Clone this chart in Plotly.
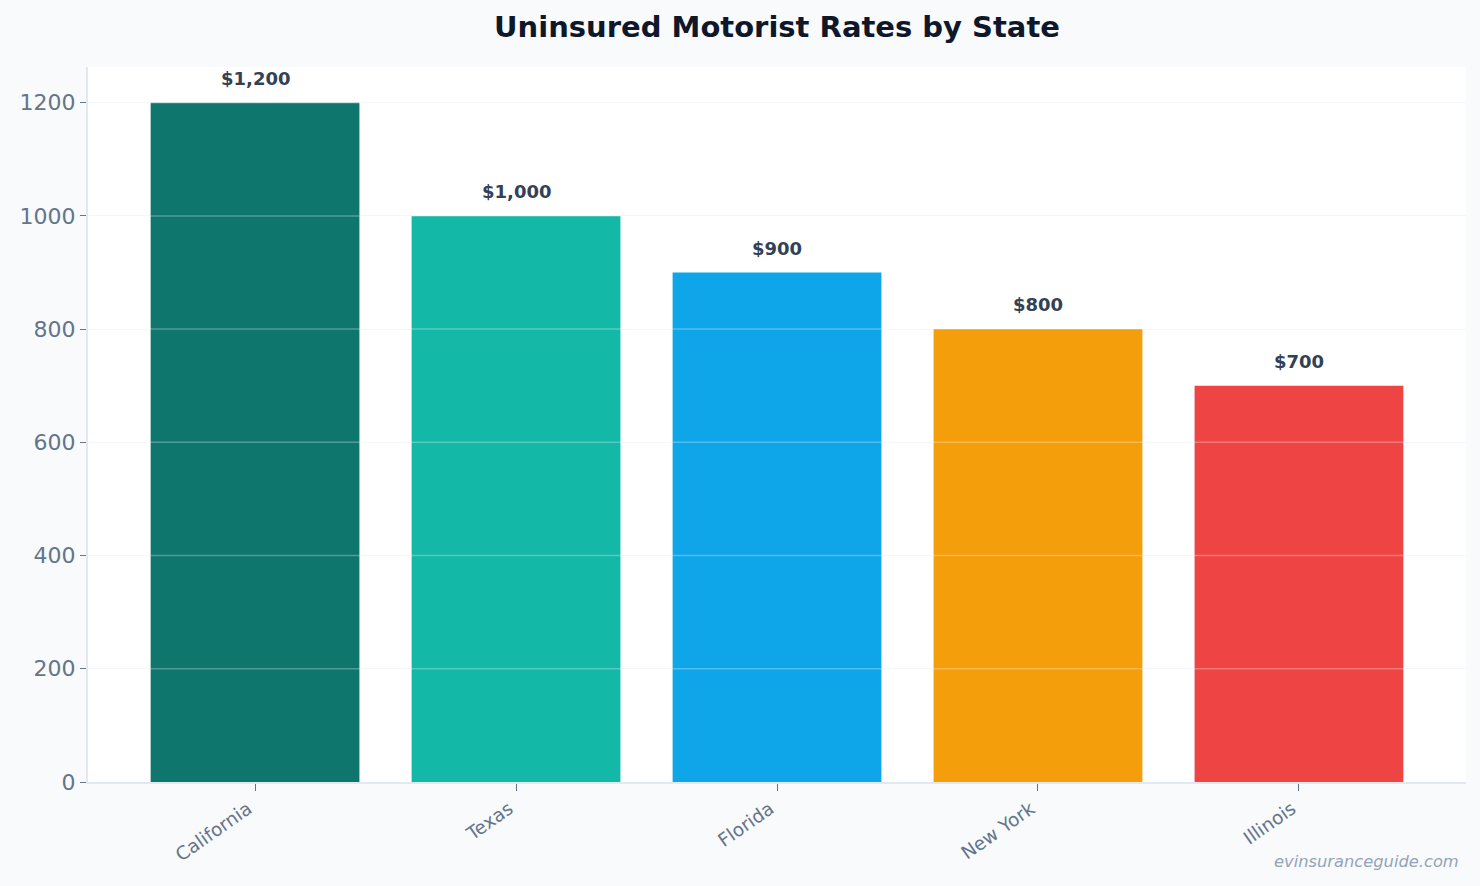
import plotly.graph_objects as go

states = ["California", "Texas", "Florida", "New York", "Illinois"]
rates = [1200, 1000, 900, 800, 700]
colors = ["#0f766e", "#14b8a6", "#0ea5e9", "#f59e0b", "#ef4444"]
y_ticks = [0, 200, 400, 600, 800, 1000, 1200]

fig = go.Figure()
fig.add_trace(go.Bar(
    x=states,
    y=rates,
    marker=dict(color=colors, line=dict(width=0)),
    hovertemplate="%{x}: $%{y:,}<extra></extra>",
))

# value labels above the bars
for s, r in zip(states, rates):
    fig.add_annotation(
        x=s, y=r, text="<b>$" + format(r, ",") + "</b>",
        showarrow=False, yanchor="bottom", yshift=12,
        font=dict(family="DejaVu Sans", size=18, color="#334155"),
    )

# light grid lines drawn over the bars
for t in y_ticks[1:]:
    fig.add_shape(
        type="line", xref="paper", x0=0, x1=1, yref="y", y0=t, y1=t,
        line=dict(color="rgba(255,255,255,0.28)", width=1.5), layer="above",
    )

fig.add_annotation(
    text="<i>evinsuranceguide.com</i>", xref="paper", yref="paper",
    x=1, y=-0.095, xanchor="right", yanchor="top", xshift=-5, showarrow=False,
    font=dict(family="DejaVu Sans", size=16.3, color="#94a3b8"),
)

fig.update_layout(
    width=1480,
    height=886,
    paper_bgcolor="#f8fafc",
    plot_bgcolor="#ffffff",
    margin=dict(l=88, r=14, t=67, b=104),
    bargap=0.2,
    showlegend=False,
    title=dict(
        text="<b>Uninsured Motorist Rates by State</b>",
        x=0.5, xref="paper", xanchor="center", y=0.97, yanchor="middle",
        font=dict(family="DejaVu Sans", size=29, color="#0f172a"),
    ),
    font=dict(family="DejaVu Sans", color="#64748b"),
)
fig.update_xaxes(
    range=[-0.64, 4.64],
    tickangle=-35,
    tickfont=dict(size=18.5, color="#64748b"),
    ticklabelshift=-7,
    showline=True, linecolor="#e2e8f0", linewidth=2,
    ticks="outside", ticklen=7, tickcolor="#64748b",
    showgrid=False,
)
fig.update_yaxes(
    range=[0, 1263],
    tickvals=y_ticks,
    tickfont=dict(size=22, color="#64748b"),
    showline=True, linecolor="#e2e8f0", linewidth=2,
    ticks="outside", ticklen=6, tickcolor="#64748b",
    gridcolor="#f1f5f9", gridwidth=1,
    zeroline=False,
)

fig.write_html(
    "out.html",
    config={"displayModeBar": False},
    post_script="document.body.style.margin='0';",
)
